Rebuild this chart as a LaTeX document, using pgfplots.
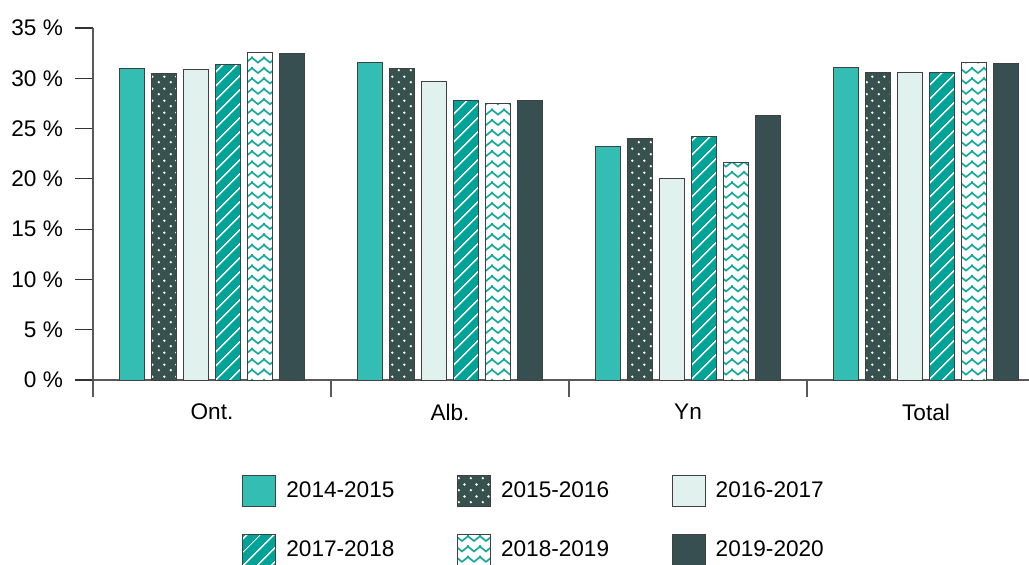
\documentclass[border=0pt]{standalone}
\usepackage{pgfplots}
\pgfplotsset{compat=1.18}
\usepackage{fontspec}
\setmainfont{Liberation Sans}
\usetikzlibrary{patterns.meta}
\definecolor{cA}{HTML}{33BDB3}
\definecolor{cB}{HTML}{37514F}
\definecolor{cC}{HTML}{E1F1ED}
\definecolor{cD}{HTML}{00A398}
\definecolor{cE}{HTML}{14A89C}
\definecolor{cF}{HTML}{374F51}
\tikzdeclarepattern{
  name=mydots, type=uncolored,
  bounding box={(0pt,0pt) and (6pt,6pt)},
  tile size={(6pt,6pt)},
  code={\fill (1.5pt,1.5pt) circle (0.7pt); \fill (4.5pt,4.5pt) circle (0.7pt);}
}
\tikzdeclarepattern{
  name=mylines, type=uncolored,
  bounding box={(0pt,0pt) and (5.2pt,5.2pt)},
  tile size={(5.2pt,5.2pt)},
  tile transformation={rotate=45},
  code={\draw[line width=0.85pt] (-1pt,2.6pt)--(6.2pt,2.6pt);}
}
\tikzdeclarepattern{
  name=myzigzag, type=uncolored,
  bounding box={(-0.5pt,0pt) and (6.5pt,5.2pt)},
  tile size={(6pt,5.2pt)},
  code={\draw[line width=0.85pt,line join=miter] (-0.5pt,3.9pt) -- (3pt,1.1pt) -- (6.5pt,3.9pt);}
}
\begin{document}
\begin{tikzpicture}
\begin{axis}[
  name=ax,
  scale only axis,
  width=476pt, height=176pt,
  font=\fontsize{11.3}{13.5}\selectfont,
  ybar=3.5pt, bar width=12.5pt,
  xmin=-0.5, xmax=3.5, ymin=0, ymax=35,
  axis x line*=bottom, axis y line*=left,
  axis line style={black!65, line width=0.6pt},
  xtick={0,1,2,3}, xticklabels={Ont.,Alb.,Yn,Total},
  major x tick style={draw=none},
  minor xtick={-0.5,0.5,1.5,2.5},
  minor tick length=8.5pt,
  minor x tick style={black!65, line width=0.6pt},
  xticklabel style={yshift=0.5pt},
  ytick={0,5,...,35},
  major tick length=9pt,
  tick align=outside,
  y tick style={black!80, line width=0.6pt},
  /pgf/number format/assume math mode=true,
  yticklabel={\pgfmathprintnumber{\tick}~\%},
  yticklabel style={xshift=-2.5pt},
  every axis plot/.append style={draw=black!75, line width=0.5pt},
  legend columns=3,
  legend cell align=left,
  legend image code/.code={\draw[#1] (0pt,-7.75pt) rectangle (16.5pt,7.75pt);},
  legend style={draw=none, inner sep=0pt, anchor=north west, at={(0.1565,-0.27)},
    row sep=13.5pt,
    /tikz/every odd column/.append style={column sep=3pt},
    /tikz/every even column/.append style={column sep=29.3pt}},
]
\addplot[fill=cA] coordinates {(0,31.0) (1,31.6) (2,23.2) (3,31.1)};
\addplot[preaction={fill=cB}, pattern=mydots, pattern color=white] coordinates {(0,30.5) (1,31.0) (2,24.0) (3,30.6)};
\addplot[fill=cC] coordinates {(0,30.9) (1,29.7) (2,20.0) (3,30.6)};
\addplot[preaction={fill=cD}, pattern=mylines, pattern color=white] coordinates {(0,31.4) (1,27.8) (2,24.2) (3,30.6)};
\addplot[preaction={fill=white}, pattern=myzigzag, pattern color=cE] coordinates {(0,32.6) (1,27.5) (2,21.6) (3,31.6)};
\addplot[fill=cF] coordinates {(0,32.5) (1,27.8) (2,26.3) (3,31.5)};
\legend{2014-2015,2015-2016,2016-2017,2017-2018,2018-2019,2019-2020}
\end{axis}
\pgfresetboundingbox
\path ([xshift=-46.5pt,yshift=-92pt]ax.south west) rectangle ([xshift=468pt,yshift=14pt]ax.north west);
\end{tikzpicture}
\end{document}
